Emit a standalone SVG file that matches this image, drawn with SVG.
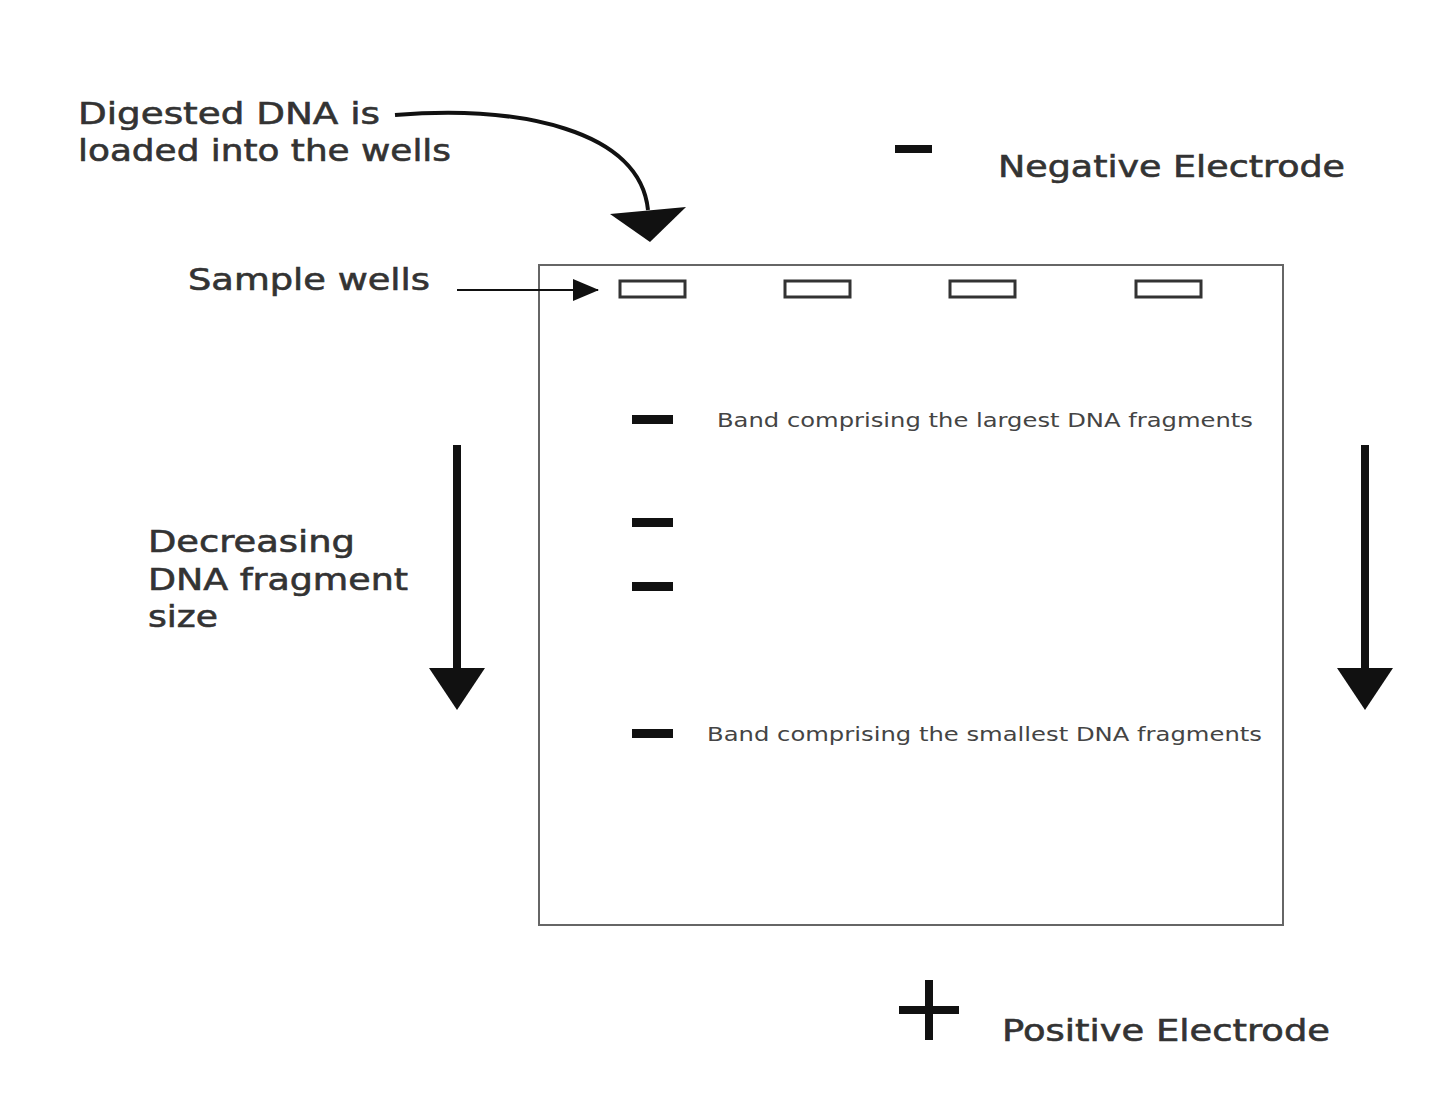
<svg xmlns="http://www.w3.org/2000/svg" width="1440" height="1111" viewBox="0 0 1440 1111">
<style>
.t{font-family:"DejaVu Sans",Verdana,sans-serif;fill:#333;font-size:30px;stroke:#333;stroke-width:0.6}
.s{font-family:"DejaVu Sans",Verdana,sans-serif;fill:#444;font-size:19px}
.w{fill:none;stroke:#333;stroke-width:3}
.b{fill:#111}
</style>
<defs><marker id="ah" markerWidth="26" markerHeight="22" refX="25" refY="11" orient="auto" markerUnits="userSpaceOnUse"><path d="M0,0 L26,11 L0,22 z" fill="#111"/></marker></defs>
<rect width="1440" height="1111" fill="#fff"/>
<g id="gel"><rect x="539" y="265" width="744" height="660" fill="none" stroke="#666" stroke-width="2"/></g>
<g id="wells">
<rect class="w" x="620" y="281" width="65" height="16"/>
<rect class="w" x="785" y="281" width="65" height="16"/>
<rect class="w" x="950" y="281" width="65" height="16"/>
<rect class="w" x="1136" y="281" width="65" height="16"/>
</g>
<g id="bands">
<rect class="b" x="632" y="415" width="41" height="9"/>
<rect class="b" x="632" y="518" width="41" height="9"/>
<rect class="b" x="632" y="582" width="41" height="9"/>
<rect class="b" x="632" y="729" width="41" height="9"/>
</g>
<g id="labels">
<text class="t" x="78" y="124" textLength="302" lengthAdjust="spacingAndGlyphs">Digested DNA is</text>
<text class="t" x="78" y="161" textLength="373" lengthAdjust="spacingAndGlyphs">loaded into the wells</text>
<text class="t" x="188" y="290" textLength="242" lengthAdjust="spacingAndGlyphs">Sample wells</text>
<text class="t" x="998" y="177" textLength="347" lengthAdjust="spacingAndGlyphs">Negative Electrode</text>
<text class="t" x="1002" y="1041" textLength="328" lengthAdjust="spacingAndGlyphs">Positive Electrode</text>
<text class="t" x="148" y="552" textLength="207" lengthAdjust="spacingAndGlyphs">Decreasing</text>
<text class="t" x="148" y="590" textLength="260" lengthAdjust="spacingAndGlyphs">DNA fragment</text>
<text class="t" x="148" y="627" textLength="70" lengthAdjust="spacingAndGlyphs">size</text>
<text class="s" x="717" y="427" textLength="536" lengthAdjust="spacingAndGlyphs">Band comprising the largest DNA fragments</text>
<text class="s" x="707" y="741" textLength="555" lengthAdjust="spacingAndGlyphs">Band comprising the smallest DNA fragments</text>
</g>
<g id="signs">
<rect class="b" x="895" y="145" width="37" height="8"/>
<rect class="b" x="899" y="1006" width="60" height="8"/>
<rect class="b" x="925" y="980" width="8" height="60"/>
</g>
<g id="connectors">
<path d="M395,115 C520,105 640,130 648,210" fill="none" stroke="#111" stroke-width="4"/>
<polygon points="610,214 686,207 650,242" fill="#111"/>
<line x1="457" y1="290" x2="598" y2="290" stroke="#111" stroke-width="2" marker-end="url(#ah)"/>
<line x1="457" y1="445" x2="457" y2="672" stroke="#111" stroke-width="8"/>
<polygon points="429,668 485,668 457,710" fill="#111"/>
<line x1="1365" y1="445" x2="1365" y2="670" stroke="#111" stroke-width="8"/>
<polygon points="1337,668 1393,668 1365,710" fill="#111"/>
</g>
</svg>
